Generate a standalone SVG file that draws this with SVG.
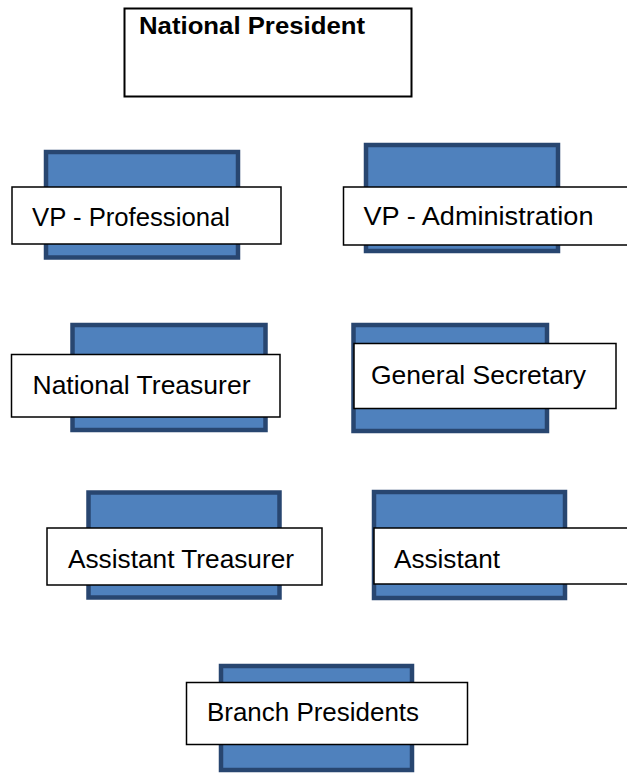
<svg xmlns="http://www.w3.org/2000/svg" width="627" height="773" viewBox="0 0 627 773">
  <style>
    .card { fill: #4F81BD; stroke: #284670; stroke-width: 4.5; }
    .label { fill: #FFFFFF; stroke: #000000; stroke-width: 1.5; }
    .head { fill: #FFFFFF; stroke: #000000; stroke-width: 2; }
    .txt { font-family: "Liberation Sans", Arial, sans-serif; font-size: 26px; fill: #000000; }
    .bold { font-weight: bold; font-size: 24px; }
  </style>
  <rect width="627" height="773" fill="#FFFFFF"/>

  <g id="connectors"/>

  <g id="national-president">
    <rect class="head" x="124.5" y="8.5" width="287" height="88"/>
    <text class="txt bold" x="139" y="34" textLength="226" lengthAdjust="spacingAndGlyphs">National President</text>
  </g>

  <g id="vp-professional">
    <rect class="card" x="46" y="152" width="192" height="105.5"/>
    <rect class="label" x="12" y="187" width="269" height="57"/>
    <text class="txt" x="32" y="226" textLength="198" lengthAdjust="spacingAndGlyphs">VP - Professional</text>
  </g>

  <g id="vp-administration">
    <rect class="card" x="366" y="145" width="192" height="106"/>
    <rect class="label" x="343.5" y="187" width="295" height="58"/>
    <text class="txt" x="363.5" y="224.5" textLength="230" lengthAdjust="spacingAndGlyphs">VP - Administration</text>
  </g>

  <g id="national-treasurer">
    <rect class="card" x="72.5" y="325" width="193" height="105"/>
    <rect class="label" x="11.5" y="354.5" width="268.5" height="62.5"/>
    <text class="txt" x="32.5" y="393.5" textLength="218" lengthAdjust="spacingAndGlyphs">National Treasurer</text>
  </g>

  <g id="general-secretary">
    <rect class="card" x="353.5" y="325" width="193.5" height="106"/>
    <rect class="label" x="354" y="343.5" width="262" height="65"/>
    <text class="txt" x="371" y="383.5" textLength="215" lengthAdjust="spacingAndGlyphs">General Secretary</text>
  </g>

  <g id="assistant-treasurer">
    <rect class="card" x="88.5" y="492.5" width="191" height="105"/>
    <rect class="label" x="47" y="528" width="275" height="57"/>
    <text class="txt" x="68" y="567.5" textLength="226" lengthAdjust="spacingAndGlyphs">Assistant Treasurer</text>
  </g>

  <g id="assistant">
    <rect class="card" x="374" y="492" width="191" height="106"/>
    <rect class="label" x="374" y="528" width="260" height="56"/>
    <text class="txt" x="394" y="567.5" textLength="106" lengthAdjust="spacingAndGlyphs">Assistant</text>
  </g>

  <g id="branch-presidents">
    <rect class="card" x="221" y="666" width="191" height="104"/>
    <rect class="label" x="186.5" y="682.5" width="281" height="62"/>
    <text class="txt" x="207" y="721" textLength="212" lengthAdjust="spacingAndGlyphs">Branch Presidents</text>
  </g>
</svg>
